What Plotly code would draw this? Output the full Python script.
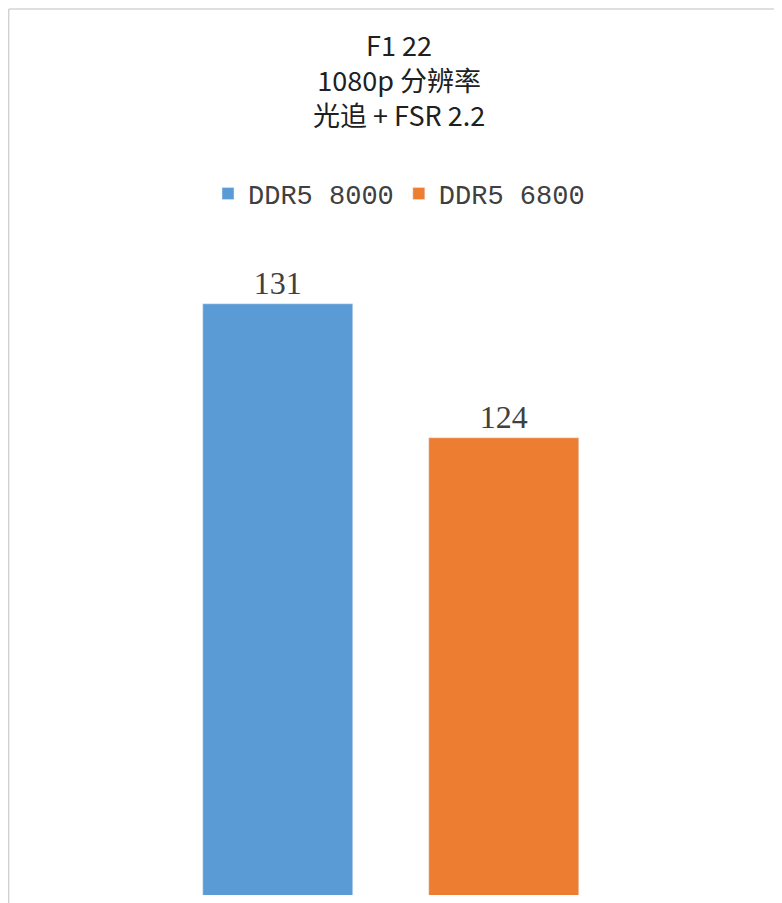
import plotly.graph_objects as go

series = ["DDR5 8000", "DDR5 6800"]
values = [131, 124]
colors = ["#5B9BD5", "#ED7D31"]

fig = go.Figure()
for i, (name, v, c) in enumerate(zip(series, values, colors)):
    fig.add_trace(go.Bar(
        x=[i], y=[v], name=name, marker=dict(color=c), width=0.664,
        text=[str(v)], textposition="outside", cliponaxis=False,
        textfont=dict(family="Liberation Serif", size=32, color="#404040"),
    ))

plot_h = 903 - 220 - 16
fig.update_layout(
    width=782, height=903,
    paper_bgcolor="white", plot_bgcolor="white",
    margin=dict(l=0, r=0, t=220, b=16),
    legend=dict(
        orientation="h", x=0.5, xanchor="center", y=1 + 34 / plot_h, yanchor="middle",
        font=dict(family="Liberation Mono", size=27, color="#404040"),
        itemwidth=30,
    ),
    annotations=[dict(
        text="F1 22<br>1080p 分辨率<br>光追 + FSR 2.2",
        xref="paper", yref="paper", x=0.5, y=1 + 205 / plot_h,
        xanchor="center", yanchor="top", showarrow=False, align="center",
        font=dict(family="Noto Sans CJK SC", size=27, color="#202020"),
    )],
    xaxis=dict(range=[-1.195, 2.265], visible=False),
    yaxis=dict(range=[100, 135], visible=False),
    shapes=[dict(type="rect", xref="paper", yref="paper",
                 x0=0.001, x1=0.999, y0=-15 / plot_h, y1=1 + 219 / plot_h,
                 line=dict(color="#BFBFBF", width=1), layer="below")],
    bargap=0,
)
fig.write_html("out.html")
